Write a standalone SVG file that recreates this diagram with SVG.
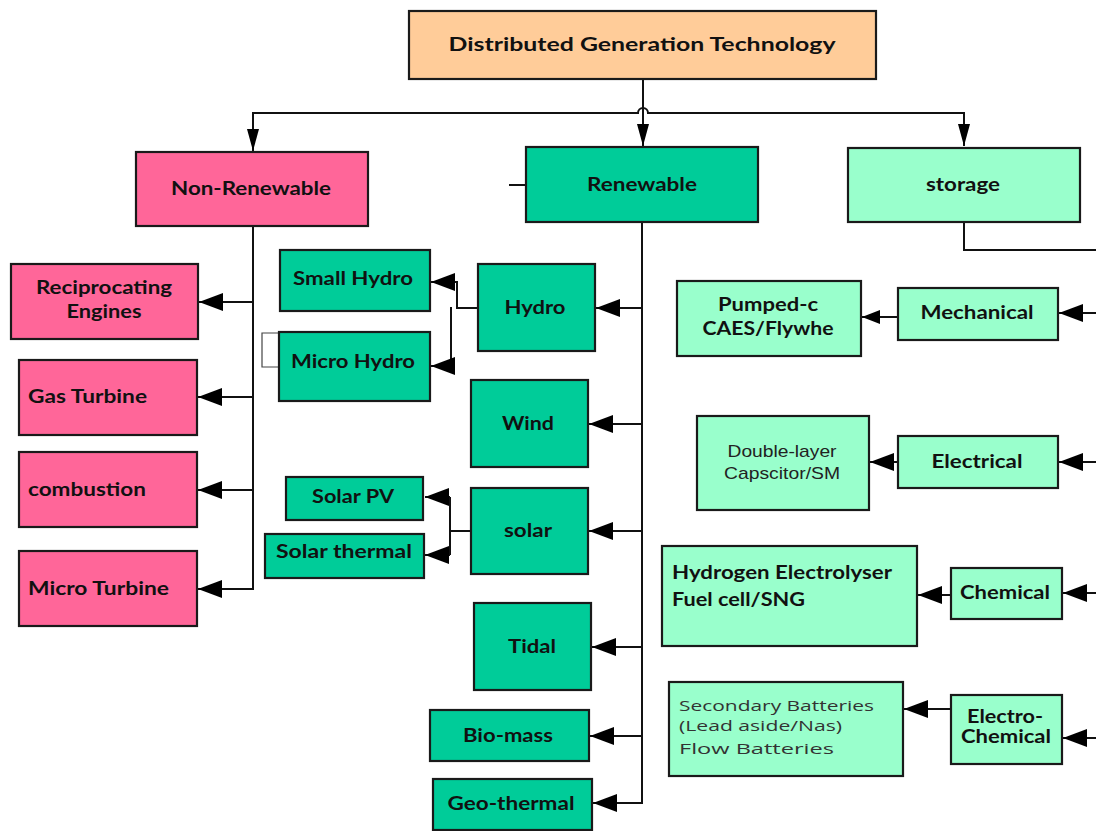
<svg xmlns="http://www.w3.org/2000/svg" width="1096" height="831" viewBox="0 0 1096 831">
<defs>
<style>
.box{stroke:#1a1a1a;stroke-width:2.2}
.peach{fill:#FFCC99}
.pink{fill:#FF6699}
.green{fill:#00CC99}
.light{fill:#99FFCC}
.t{font-family:Lato,"Open Sans","Liberation Sans",sans-serif;font-weight:bold;font-size:18px;fill:#111;text-anchor:middle}
.tl{text-anchor:start}
.reg{font-family:"Liberation Sans",Arial,sans-serif;font-size:17px;fill:#222;text-anchor:middle}
.sec{font-family:"Open Sans","Liberation Sans",sans-serif;font-size:15px;fill:#333}
.ln{fill:none;stroke:#111;stroke-width:2}
.thin{fill:none;stroke:#444;stroke-width:1.2}
</style>
<marker id="ah" viewBox="0 0 24 18" refX="24" refY="9" markerWidth="24" markerHeight="18" markerUnits="userSpaceOnUse" orient="auto">
<path d="M0,0 L24,9 L0,18 Z" fill="#000"/>
</marker>
<marker id="ahd" viewBox="0 0 22 12" refX="22" refY="6" markerWidth="22" markerHeight="12" markerUnits="userSpaceOnUse" orient="auto">
<path d="M0,0 L22,6 L0,12 Z" fill="#000"/>
</marker>
<marker id="ahs" viewBox="0 0 18 14" refX="18" refY="7" markerWidth="18" markerHeight="14" markerUnits="userSpaceOnUse" orient="auto">
<path d="M0,0 L18,7 L0,14 Z" fill="#000"/>
</marker>
</defs>
<rect width="1096" height="831" fill="#fff"/>

<g id="connectors">
<path class="ln" d="M643,79 V146" marker-end="url(#ahd)"/>
<path class="ln" d="M253,137 V113 H638 A5,5 0 0 1 648,113 H964 V146" marker-end="url(#ahd)"/>
<path class="ln" d="M253,113 V151" marker-end="url(#ahd)"/>
<path class="ln" d="M253,226 V589 H199"/>
<path class="ln" d="M253,302 H199" marker-end="url(#ah)"/>
<path class="ln" d="M253,397 H198" marker-end="url(#ah)"/>
<path class="ln" d="M253,490 H198" marker-end="url(#ah)"/>
<path class="ln" d="M230,589 H198" marker-end="url(#ah)"/>
<path class="ln" d="M509,185 H526"/>
<path class="ln" d="M642,222 V803 H593"/>
<path class="ln" d="M642,308 H596" marker-end="url(#ah)"/>
<path class="ln" d="M642,424 H589" marker-end="url(#ah)"/>
<path class="ln" d="M642,531 H589" marker-end="url(#ah)"/>
<path class="ln" d="M642,647 H592" marker-end="url(#ah)"/>
<path class="ln" d="M642,736 H590" marker-end="url(#ah)"/>
<path class="ln" d="M620,803 H593" marker-end="url(#ah)"/>
<path class="ln" d="M478,308 H457 V282 H431" marker-end="url(#ah)"/>
<path class="ln" d="M451,307 V366 H431" marker-end="url(#ah)"/>
<path class="thin" d="M279,333 H262 V367 H279"/>
<path class="ln" d="M471,531 H450"/>
<path class="ln" d="M450,497 V555"/>
<path class="ln" d="M450,497 H425" marker-end="url(#ah)"/>
<path class="ln" d="M450,555 H425" marker-end="url(#ah)"/>
<path class="ln" d="M964,222 V250 H1096"/>
<path class="ln" d="M1096,313 H1059" marker-end="url(#ah)"/>
<path class="ln" d="M1096,462 H1059" marker-end="url(#ah)"/>
<path class="ln" d="M1096,593 H1063" marker-end="url(#ah)"/>
<path class="ln" d="M1096,738 H1063" marker-end="url(#ah)"/>
<path class="ln" d="M898,317 H862" marker-end="url(#ahs)"/>
<path class="ln" d="M898,462 H870" marker-end="url(#ah)"/>
<path class="ln" d="M951,595 H918" marker-end="url(#ah)"/>
<path class="ln" d="M951,709 H904" marker-end="url(#ah)"/>
</g>

<g id="n-top"><rect class="box peach" x="409" y="11" width="467" height="68"/><text class="t" x="642" y="51" font-size="20" textLength="387" lengthAdjust="spacingAndGlyphs">Distributed Generation Technology</text></g>

<g id="n-nonrenewable"><rect class="box pink" x="136" y="152" width="232" height="74"/><text class="t" x="251" y="195" textLength="160" lengthAdjust="spacingAndGlyphs">Non-Renewable</text></g>
<g id="n-renewable"><rect class="box green" x="526" y="147" width="232" height="75"/><text class="t" x="642" y="191" textLength="110" lengthAdjust="spacingAndGlyphs">Renewable</text></g>
<g id="n-storage"><rect class="box light" x="848" y="148" width="232" height="74"/><text class="t" x="963" y="191" textLength="74" lengthAdjust="spacingAndGlyphs">storage</text></g>

<g id="n-recip"><rect class="box pink" x="11" y="264" width="187" height="75"/><text class="t" x="104" y="294" textLength="136" lengthAdjust="spacingAndGlyphs">Reciprocating</text><text class="t" x="104" y="318" textLength="75" lengthAdjust="spacingAndGlyphs">Engines</text></g>
<g id="n-gas"><rect class="box pink" x="19" y="360" width="178" height="75"/><text class="t tl" x="28" y="403" textLength="119" lengthAdjust="spacingAndGlyphs">Gas Turbine</text></g>
<g id="n-comb"><rect class="box pink" x="19" y="452" width="178" height="75"/><text class="t tl" x="28" y="496" textLength="118" lengthAdjust="spacingAndGlyphs">combustion</text></g>
<g id="n-micro-t"><rect class="box pink" x="19" y="551" width="178" height="75"/><text class="t tl" x="28" y="595" textLength="141" lengthAdjust="spacingAndGlyphs">Micro Turbine</text></g>

<g id="n-small-hydro"><rect class="box green" x="280" y="250" width="150" height="61"/><text class="t" x="353" y="285" textLength="120" lengthAdjust="spacingAndGlyphs">Small Hydro</text></g>
<g id="n-micro-hydro"><rect class="box green" x="279" y="332" width="151" height="69"/><text class="t" x="353" y="368" textLength="124" lengthAdjust="spacingAndGlyphs">Micro Hydro</text></g>
<g id="n-hydro"><rect class="box green" x="478" y="264" width="117" height="87"/><text class="t" x="535" y="314" textLength="61" lengthAdjust="spacingAndGlyphs">Hydro</text></g>
<g id="n-wind"><rect class="box green" x="471" y="380" width="117" height="87"/><text class="t" x="528" y="430" textLength="52" lengthAdjust="spacingAndGlyphs">Wind</text></g>
<g id="n-solar-pv"><rect class="box green" x="286" y="477" width="137" height="43"/><text class="t" x="353" y="503" textLength="82" lengthAdjust="spacingAndGlyphs">Solar PV</text></g>
<g id="n-solar-th"><rect class="box green" x="265" y="534" width="159" height="44"/><text class="t" x="344" y="558" textLength="136" lengthAdjust="spacingAndGlyphs">Solar thermal</text></g>
<g id="n-solar"><rect class="box green" x="471" y="488" width="117" height="86"/><text class="t" x="528" y="537" textLength="48" lengthAdjust="spacingAndGlyphs">solar</text></g>
<g id="n-tidal"><rect class="box green" x="474" y="603" width="117" height="87"/><text class="t" x="532" y="653" textLength="48" lengthAdjust="spacingAndGlyphs">Tidal</text></g>
<g id="n-biomass"><rect class="box green" x="430" y="710" width="159" height="51"/><text class="t" x="508" y="742" textLength="90" lengthAdjust="spacingAndGlyphs">Bio-mass</text></g>
<g id="n-geo"><rect class="box green" x="433" y="779" width="159" height="51"/><text class="t" x="511" y="810" textLength="127" lengthAdjust="spacingAndGlyphs">Geo-thermal</text></g>

<g id="n-mech"><rect class="box light" x="898" y="288" width="160" height="52"/><text class="t" x="977" y="319" textLength="113" lengthAdjust="spacingAndGlyphs">Mechanical</text></g>
<g id="n-pumped"><rect class="box light" x="677" y="281" width="184" height="75"/><text class="t" x="768" y="311" textLength="100" lengthAdjust="spacingAndGlyphs">Pumped-c</text><text class="t" x="768" y="335" textLength="131" lengthAdjust="spacingAndGlyphs">CAES/Flywhe</text></g>
<g id="n-elec"><rect class="box light" x="898" y="436" width="160" height="52"/><text class="t" x="977" y="468" textLength="91" lengthAdjust="spacingAndGlyphs">Electrical</text></g>
<g id="n-dlc"><rect class="box light" x="697" y="416" width="172" height="94"/><text class="reg" x="782" y="457" textLength="109" lengthAdjust="spacingAndGlyphs">Double-layer</text><text class="reg" x="782" y="479" textLength="116" lengthAdjust="spacingAndGlyphs">Capscitor/SM</text></g>
<g id="n-chem"><rect class="box light" x="951" y="568" width="111" height="51"/><text class="t" x="1005" y="599" textLength="90" lengthAdjust="spacingAndGlyphs">Chemical</text></g>
<g id="n-hydrogen"><rect class="box light" x="662" y="546" width="255" height="100"/><text class="t tl" x="672" y="579" textLength="220" lengthAdjust="spacingAndGlyphs">Hydrogen Electrolyser</text><text class="t tl" x="672" y="606" textLength="133" lengthAdjust="spacingAndGlyphs">Fuel cell/SNG</text></g>
<g id="n-echem"><rect class="box light" x="951" y="695" width="111" height="69"/><text class="t" x="1005" y="723" textLength="76" lengthAdjust="spacingAndGlyphs">Electro-</text><text class="t" x="1006" y="743" textLength="90" lengthAdjust="spacingAndGlyphs">Chemical</text></g>
<g id="n-batt"><rect class="box light" x="669" y="682" width="234" height="94"/><text class="sec" x="679" y="711" textLength="195" lengthAdjust="spacingAndGlyphs">Secondary Batteries</text><text class="sec" x="679" y="731" textLength="163" lengthAdjust="spacingAndGlyphs">(Lead aside/Nas)</text><text class="sec" x="679" y="754" font-size="17" textLength="155" lengthAdjust="spacingAndGlyphs">Flow Batteries</text></g>
</svg>
